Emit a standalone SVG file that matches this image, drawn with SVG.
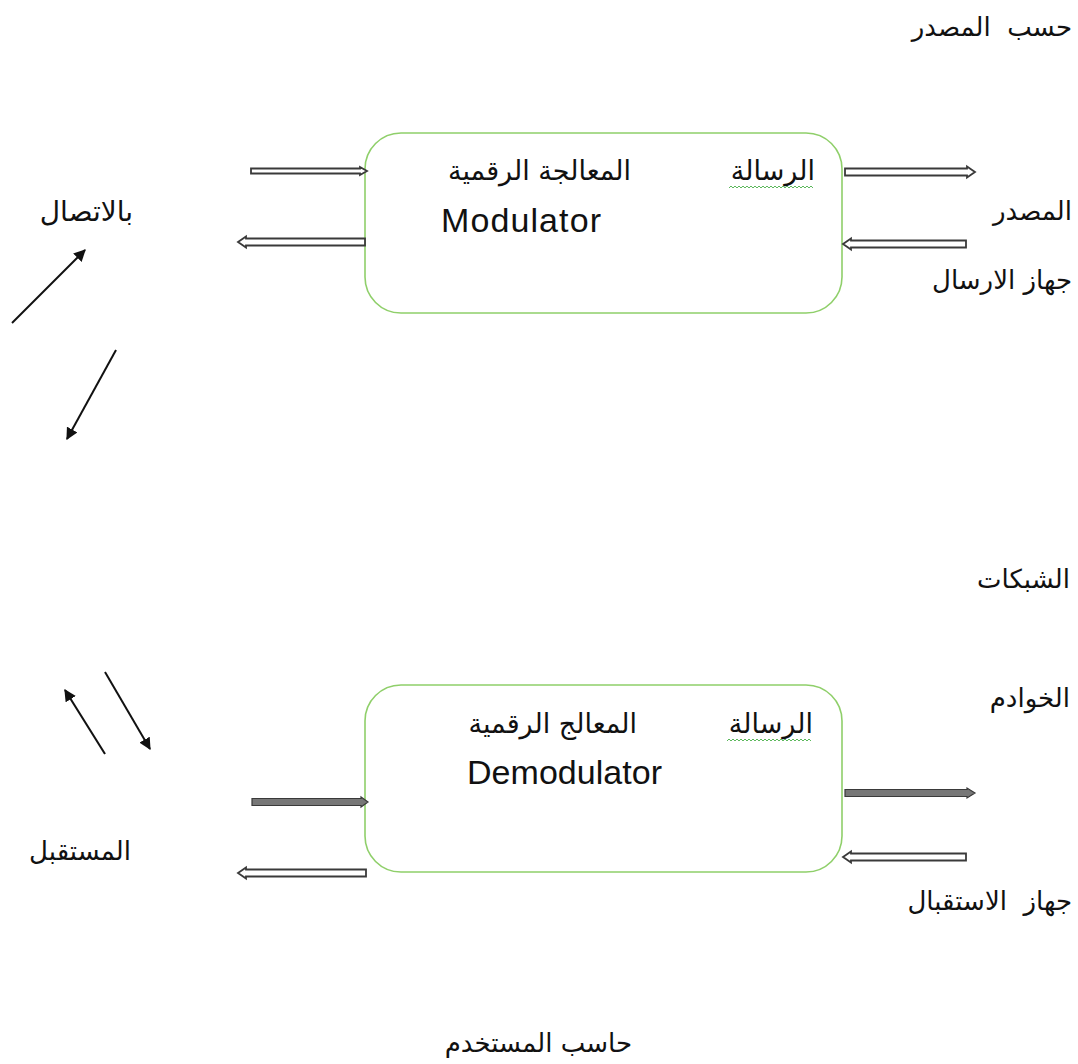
<svg xmlns="http://www.w3.org/2000/svg" width="1078" height="1064" viewBox="0 0 1078 1064">
<defs>
<style>
.box{fill:#fff;stroke:#8fcf6a;stroke-width:1.6}
.ar{font-family:"DejaVu Sans",sans-serif;font-size:26px;fill:#111;text-anchor:end}
.en{font-family:"Liberation Sans",sans-serif;font-size:34px;fill:#111}
.oa{fill:#fff;stroke:#3a3a3a;stroke-width:1.8;stroke-linejoin:miter}
.fa{fill:#777;stroke:#3a3a3a;stroke-width:1.2}
.ln{stroke:#111;stroke-width:2;fill:none}
.wavy{fill:none;stroke:#5cb85c;stroke-width:1}
</style>
<marker id="tri" viewBox="0 0 10 10" refX="9" refY="5" markerWidth="6" markerHeight="6" orient="auto" markerUnits="strokeWidth">
<path d="M0,0 L10,5 L0,10 Z" fill="#111"/>
</marker>
</defs>
<rect width="1078" height="1064" fill="#fff"/>

<g id="modulator">
<rect class="box" x="365" y="133" width="477" height="180" rx="36"/>
<text class="ar" x="631" y="180" style="font-size:27px">المعالجة الرقمية</text>
<text class="ar" x="815" y="180" style="font-size:27px">الرسالة</text>
<path class="wavy" d="M729,188 l2,-2 l2,2 l2,-2 l2,2 l2,-2 l2,2 l2,-2 l2,2 l2,-2 l2,2 l2,-2 l2,2 l2,-2 l2,2 l2,-2 l2,2 l2,-2 l2,2 l2,-2 l2,2 l2,-2 l2,2 l2,-2 l2,2 l2,-2 l2,2 l2,-2 l2,2 l2,-2 l2,2 l2,-2 l2,2 l2,-2 l2,2 l2,-2 l2,2 l2,-2 l2,2 l2,-2 l2,2 l2,-2 l2,2"/>
<text class="en" x="441" y="232" textLength="160">Modulator</text>
</g>

<g id="demodulator">
<rect class="box" x="365" y="685" width="477" height="187" rx="36"/>
<text class="ar" x="637" y="733" style="font-size:27px">المعالج الرقمية</text>
<text class="ar" x="813" y="733" style="font-size:27px">الرسالة</text>
<path class="wavy" d="M727,741 l2,-2 l2,2 l2,-2 l2,2 l2,-2 l2,2 l2,-2 l2,2 l2,-2 l2,2 l2,-2 l2,2 l2,-2 l2,2 l2,-2 l2,2 l2,-2 l2,2 l2,-2 l2,2 l2,-2 l2,2 l2,-2 l2,2 l2,-2 l2,2 l2,-2 l2,2 l2,-2 l2,2 l2,-2 l2,2 l2,-2 l2,2 l2,-2 l2,2 l2,-2 l2,2 l2,-2 l2,2 l2,-2 l2,2"/>
<text class="en" x="467" y="784" textLength="195">Demodulator</text>
</g>

<g id="labels">
<text class="ar" x="1072" y="36">حسب&#160; المصدر</text>
<text class="ar" x="1072" y="220">المصدر</text>
<text class="ar" x="1072" y="289">جهاز الارسال</text>
<text class="ar" x="133" y="221" style="font-size:28px">بالاتصال</text>
<text class="ar" x="1070" y="588">الشبكات</text>
<text class="ar" x="1070" y="707">الخوادم</text>
<text class="ar" x="131" y="860">المستقبل</text>
<text class="ar" x="1072" y="910">جهاز&#160; الاستقبال</text>
<text class="ar" x="632" y="1052">حاسب المستخدم</text>
</g>

<g id="connectors">
<path class="oa" d="M251,168.5 H360 V167 L367,171 L360,175 V173.5 H251 Z"/>
<path class="oa" d="M365,238.5 H246 V236.5 L238,242 L246,247.5 V245.5 H365 Z"/>
<path class="oa" d="M845,168.5 H967 V166.5 L975,172 L967,177.5 V175.5 H845 Z"/>
<path class="oa" d="M966,240.5 H851 V238.5 L843,244 L851,249.5 V247.5 H966 Z"/>
<path class="fa" d="M252,798.5 H361 V797 L368,802 L361,807 V805.5 H252 Z"/>
<path class="oa" d="M366,869.5 H246 V867.5 L238,873 L246,878.5 V876.5 H366 Z"/>
<path class="fa" d="M845,789.5 H967 V788 L975,793 L967,798 V796.5 H845 Z"/>
<path class="oa" d="M966,853.5 H851 V851.5 L843,857 L851,862.5 V860.5 H966 Z"/>
<line class="ln" x1="12" y1="323" x2="85" y2="250" marker-end="url(#tri)"/>
<line class="ln" x1="116" y1="350" x2="67" y2="439" marker-end="url(#tri)"/>
<line class="ln" x1="105" y1="754" x2="65" y2="690" marker-end="url(#tri)"/>
<line class="ln" x1="105" y1="672" x2="150" y2="749" marker-end="url(#tri)"/>
</g>
</svg>
